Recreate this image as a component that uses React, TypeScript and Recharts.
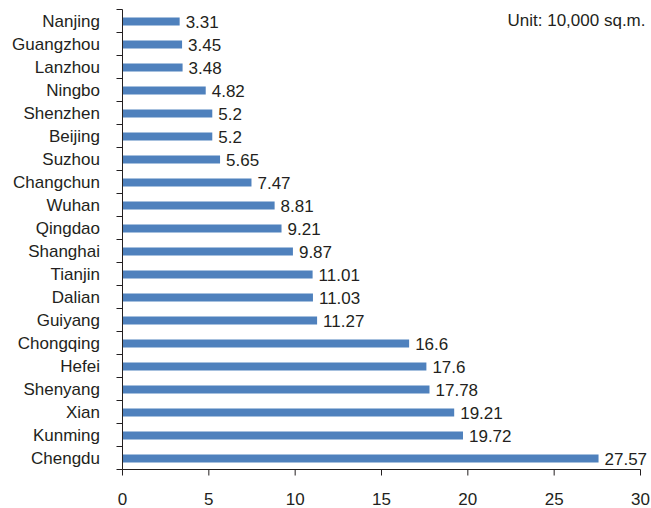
import React from 'react';
import { BarChart, Bar, XAxis, YAxis, LabelList } from 'recharts';

// Floor area by city, top to bottom
const cities = [
  'Nanjing', 'Guangzhou', 'Lanzhou', 'Ningbo', 'Shenzhen', 'Beijing', 'Suzhou',
  'Changchun', 'Wuhan', 'Qingdao', 'Shanghai', 'Tianjin', 'Dalian', 'Guiyang',
  'Chongqing', 'Hefei', 'Shenyang', 'Xian', 'Kunming', 'Chengdu',
];
const areas = [
  3.31, 3.45, 3.48, 4.82, 5.2, 5.2, 5.65, 7.47, 8.81, 9.21, 9.87, 11.01, 11.03,
  11.27, 16.6, 17.6, 17.78, 19.21, 19.72, 27.57,
];
const xTicks = [0, 5, 10, 15, 20, 25, 30];
const unitLabel = 'Unit: 10,000 sq.m.';

const data = cities.map((city, i) => ({ city, area: areas[i] }));

const BAR = '#4F81BD';
const TEXT = '#231F20';
const AXIS = '#231F20';
const FONT = 17;
const TICK_SIZE = 6;
const TICK_GAP = 16.5;

// Category labels centred in each band, with tick marks on the band edges
function CityTick(props: any) {
  const { x, y, payload, index, visibleTicksCount } = props;
  const half = typeof payload.offset === 'number' && payload.offset > 0 ? payload.offset : 11.5;
  const axisX = x + TICK_SIZE + TICK_GAP;
  return (
    <g>
      <line x1={axisX - TICK_SIZE} x2={axisX} y1={y - half} y2={y - half} stroke={AXIS} />
      {index === visibleTicksCount - 1 && (
        <line x1={axisX - TICK_SIZE} x2={axisX} y1={y + half} y2={y + half} stroke={AXIS} />
      )}
      <text x={x} y={y} dy="0.355em" textAnchor="end" fill={TEXT} fontSize={FONT}>
        {payload.value}
      </text>
    </g>
  );
}

export default function App() {
  return (
    <div
      style={{
        position: 'absolute',
        left: 0,
        top: 0,
        width: 651,
        height: 508,
        background: '#fff',
        fontFamily: '"Liberation Sans", Arial, Helvetica, sans-serif',
      }}
    >
      <BarChart
        width={651}
        height={508}
        data={data}
        layout="vertical"
        margin={{ top: 9.5, right: 10.5, bottom: 0, left: 0 }}
      >
        <XAxis
          type="number"
          domain={[0, 30]}
          ticks={xTicks}
          interval={0}
          height={38.5}
          tickSize={TICK_SIZE}
          tickMargin={17}
          axisLine={{ stroke: AXIS }}
          tickLine={{ stroke: AXIS }}
          tick={{ fill: TEXT, fontSize: FONT }}
        />
        <YAxis
          type="category"
          dataKey="city"
          width={122.5}
          interval={0}
          tickSize={TICK_SIZE}
          tickMargin={TICK_GAP}
          tickLine={false}
          axisLine={{ stroke: AXIS }}
          tick={<CityTick />}
        />
        <Bar dataKey="area" fill={BAR} barSize={8} isAnimationActive={false}>
          <LabelList dataKey="area" position="right" offset={6} fill={TEXT} fontSize={FONT} />
        </Bar>
      </BarChart>
      <div
        style={{
          position: 'absolute',
          right: 5.5,
          top: 11.5,
          fontSize: FONT,
          lineHeight: '17px',
          color: TEXT,
          whiteSpace: 'nowrap',
        }}
      >
        {unitLabel}
      </div>
    </div>
  );
}
